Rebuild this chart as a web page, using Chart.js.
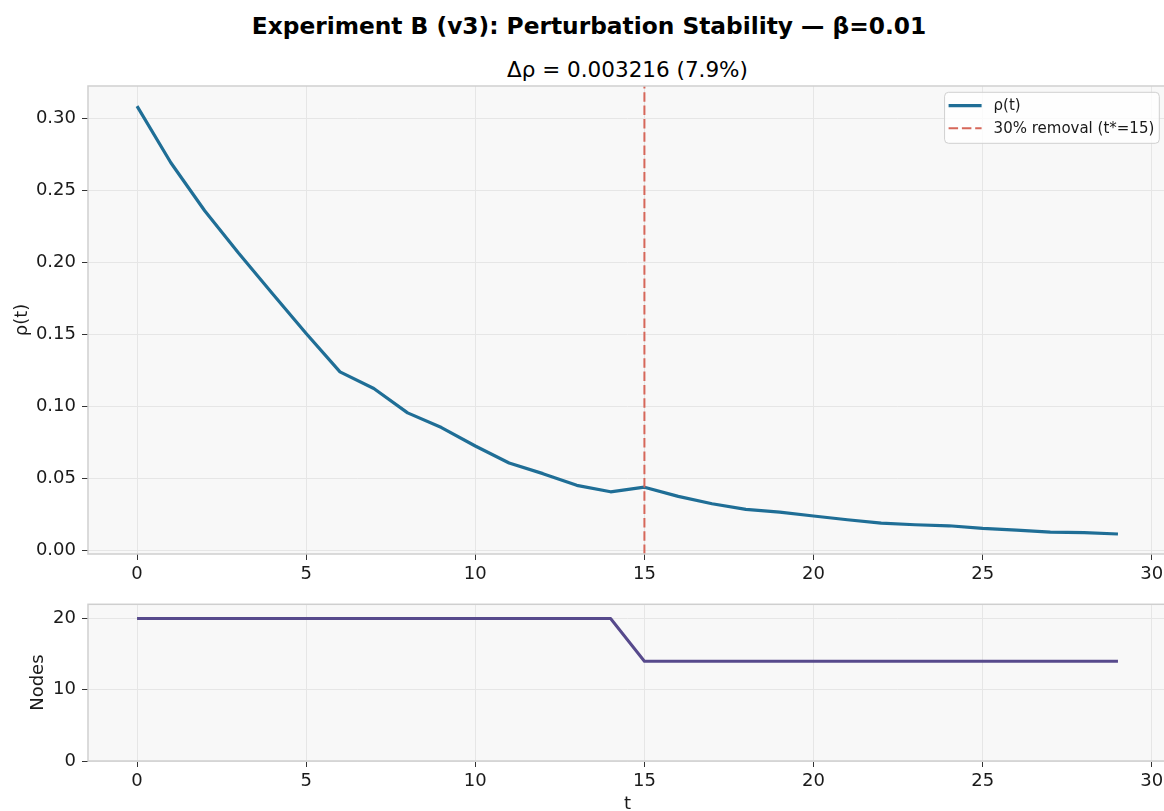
<!DOCTYPE html>
<html>
<head>
<meta charset="utf-8">
<script src="https://cdn.jsdelivr.net/npm/chart.js@4/dist/chart.umd.min.js"></script>
<style>
  html, body { margin:0; padding:0; width:1164px; height:811px; overflow:hidden; background:#ffffff; font-family:"DejaVu Sans", sans-serif; }
  #suptitle { position:absolute; left:0; width:1178px; top:13.6px; font-size:23.3px; line-height:23.3px; font-weight:bold; text-align:center; color:#000; white-space:nowrap; }
  #subtitle { position:absolute; left:88px; width:1079px; top:58.6px; font-size:21.5px; line-height:21.5px; text-align:center; color:#000; white-space:nowrap; }
  #cTop { position:absolute; left:0; top:0; }
  #cBot { position:absolute; left:0; top:590px; }
</style>
</head>
<body>
<div id="suptitle"></div>
<div id="subtitle"></div>
<canvas id="cTop" width="1180" height="590"></canvas>
<canvas id="cBot" width="1180" height="240"></canvas>
<script>
// ---------------- data ----------------
const T = [0,1,2,3,4,5,6,7,8,9,10,11,12,13,14,15,16,17,18,19,20,21,22,23,24,25,26,27,28,29];
const RHO = [0.3085,0.2692,0.2359,0.2065,0.1784,0.1506,0.1240,0.1124,0.0955,0.0853,
             0.0725,0.0607,0.0533,0.0452,0.0407,0.0439,0.0375,0.0324,0.0285,0.0266,
             0.0239,0.0213,0.0190,0.0178,0.0171,0.0153,0.0141,0.0127,0.0123,0.0114];
const NODES = [20,20,20,20,20,20,20,20,20,20,20,20,20,20,20,
               14,14,14,14,14,14,14,14,14,14,14,14,14,14,14];
const T_STAR = 15;
const X_TICKS = [0,5,10,15,20,25,30];
const RHO_TICKS = [0.00,0.05,0.10,0.15,0.20,0.25,0.30];
const NODE_TICKS = [0,10,20];
const X_RANGE = [-1.45, 30.45];
const RHO_RANGE = [-0.0025, 0.3225];
const NODE_RANGE = [0, 22];
const SUPTITLE = 'Experiment B (v3): Perturbation Stability — β=0.01';
const SUBTITLE = 'Δρ = 0.003216 (7.9%)';
const LABEL_RHO = 'ρ(t)';
const LABEL_REMOVAL = '30% removal (t*=15)';
const Y_TITLE_TOP = 'ρ(t)';
const Y_TITLE_BOT = 'Nodes';
const X_TITLE_BOT = 't';

document.getElementById('suptitle').textContent = SUPTITLE;
document.getElementById('subtitle').textContent = SUBTITLE;

// ---------------- styling ----------------
const FONT = 'DejaVu Sans';
Chart.defaults.font.family = FONT;
Chart.defaults.color = '#1a1a1a';

const COL_RHO = '#1f6e96';
const COL_CUT = '#d6675a';
const COL_NODES = '#574a8c';

const bgFrame = {
  id: 'bgFrame',
  beforeDraw(chart) {
    const {ctx, chartArea: a} = chart;
    ctx.save();
    ctx.fillStyle = '#f8f8f8';
    ctx.fillRect(a.left, a.top, a.right - a.left, a.bottom - a.top);
    ctx.restore();
  },
  afterDraw(chart) {
    const {ctx, chartArea: a} = chart;
    ctx.save();
    ctx.strokeStyle = '#cfcfcf';
    ctx.lineWidth = 1.5;
    ctx.strokeRect(a.left, a.top, a.right - a.left, a.bottom - a.top);
    ctx.restore();
  }
};

const mplLegend = {
  id: 'mplLegend',
  afterDraw(chart, args, opts) {
    if (!opts || !opts.display) return;
    const {ctx, chartArea: a} = chart;
    const items = chart.data.datasets.filter(d => d.label);
    const fontSize = 15;
    ctx.save();
    ctx.font = fontSize + 'px "' + FONT + '"';
    let maxW = 0;
    items.forEach(d => { maxW = Math.max(maxW, ctx.measureText(d.label).width); });
    const padL = 4, lineLen = 33, gap = 12, padR = 5, rowH = 22.6, padT = 13.4;
    const w = padL + lineLen + gap + maxW + padR;
    const h = 51;
    const right = a.right - 7.7;
    const left = right - w;
    const top = a.top + 6.3;
    ctx.beginPath();
    if (ctx.roundRect) ctx.roundRect(left, top, w, h, 4); else ctx.rect(left, top, w, h);
    ctx.fillStyle = 'rgba(255,255,255,0.8)';
    ctx.fill();
    ctx.strokeStyle = '#d0d0d0';
    ctx.lineWidth = 1;
    ctx.stroke();
    items.forEach((d, i) => {
      const y = top + padT + i * rowH;
      ctx.beginPath();
      ctx.setLineDash(d.borderDash || []);
      ctx.strokeStyle = d.borderColor;
      ctx.lineWidth = d.borderWidth;
      ctx.moveTo(left + padL, y);
      ctx.lineTo(left + padL + lineLen, y);
      ctx.stroke();
      ctx.setLineDash([]);
      ctx.fillStyle = '#1a1a1a';
      ctx.textBaseline = 'middle';
      ctx.textAlign = 'left';
      ctx.fillText(d.label, left + padL + lineLen + gap, y + 0.5);
    });
    ctx.restore();
  }
};

function xScale(height, withTitle) {
  return {
    type: 'linear',
    min: X_RANGE[0], max: X_RANGE[1],
    afterBuildTicks: s => { s.ticks = X_TICKS.map(v => ({value: v})); },
    afterFit: s => { s.height = height; s.paddingLeft = 0; s.paddingRight = 0; },
    ticks: { font: {size: 18}, color: '#1a1a1a', padding: 4, maxRotation: 0, autoSkip: false, callback: v => String(v) },
    grid: { color: '#e6e6e6', lineWidth: 1, tickColor: '#333', tickLength: 6, tickWidth: 1 },
    border: { display: false },
    title: withTitle ? { display: true, text: X_TITLE_BOT, font: {size: 18}, color: '#1a1a1a', padding: {top: 0, bottom: 14.9} } : { display: false }
  };
}
function yScale(range, ticks, fmt, title, titlePad) {
  return {
    type: 'linear',
    min: range[0], max: range[1],
    afterBuildTicks: s => { s.ticks = ticks.map(v => ({value: v})); },
    afterFit: s => { s.width = 88; s.paddingTop = 0; s.paddingBottom = 0; },
    ticks: { font: {size: 18}, color: '#1a1a1a', padding: 6, autoSkip: false, callback: fmt },
    grid: { color: '#e6e6e6', lineWidth: 1, tickColor: '#333', tickLength: 6, tickWidth: 1 },
    border: { display: false },
    title: { display: true, text: title, font: {size: 18}, color: '#1a1a1a', padding: {top: titlePad, bottom: 0} }
  };
}

// ---------------- top chart ----------------
new Chart(document.getElementById('cTop'), {
  type: 'line',
  data: {
    datasets: [
      {
        label: LABEL_RHO,
        data: T.map((t, i) => ({x: t, y: RHO[i]})),
        borderColor: COL_RHO, borderWidth: 3.2, pointRadius: 0, tension: 0,
        borderJoinStyle: 'round', fill: false, order: 1
      },
      {
        label: LABEL_REMOVAL,
        data: [{x: T_STAR, y: RHO_RANGE[0]}, {x: T_STAR, y: RHO_RANGE[1]}],
        borderColor: COL_CUT, borderWidth: 2, borderDash: [9.5, 3.8], pointRadius: 0, fill: false, order: 0
      }
    ]
  },
  options: {
    responsive: false, animation: false, devicePixelRatio: 1,
    layout: { padding: { left: 0, top: 86, right: 13, bottom: 0 } },
    plugins: { legend: { display: false }, tooltip: { enabled: false }, title: { display: false }, mplLegend: { display: true } },
    scales: {
      x: xScale(36, false),
      y: yScale(RHO_RANGE, RHO_TICKS, v => Number(v).toFixed(2), Y_TITLE_TOP, 11.2)
    }
  },
  plugins: [bgFrame, mplLegend]
});

// ---------------- bottom chart ----------------
new Chart(document.getElementById('cBot'), {
  type: 'line',
  data: {
    datasets: [
      {
        data: T.map((t, i) => ({x: t, y: NODES[i]})),
        borderColor: COL_NODES, borderWidth: 3, pointRadius: 0, tension: 0,
        borderJoinStyle: 'round', fill: false
      }
    ]
  },
  options: {
    responsive: false, animation: false, devicePixelRatio: 1,
    layout: { padding: { left: 0, top: 14.3, right: 13, bottom: 0 } },
    plugins: { legend: { display: false }, tooltip: { enabled: false }, title: { display: false }, mplLegend: { display: false } },
    scales: {
      x: xScale(69, true),
      y: yScale(NODE_RANGE, NODE_TICKS, v => String(v), Y_TITLE_BOT, 27.2)
    }
  },
  plugins: [bgFrame, mplLegend]
});
</script>
</body>
</html>
